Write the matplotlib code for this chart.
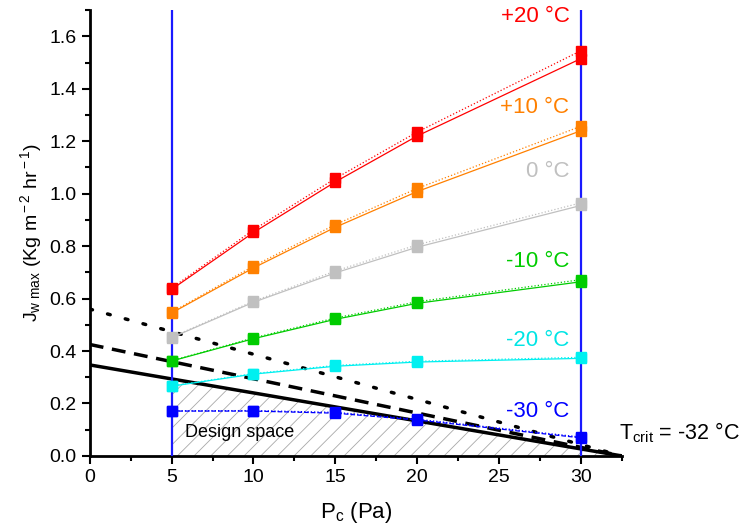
import numpy as np
import matplotlib
matplotlib.use("Agg")
import matplotlib.pyplot as plt
from matplotlib.ticker import MultipleLocator

plt.rcParams['font.family'] = ['Liberation Sans', 'DejaVu Sans']
plt.rcParams['mathtext.fontset'] = 'custom'
plt.rcParams['mathtext.rm'] = 'Liberation Sans'
plt.rcParams['mathtext.it'] = 'Liberation Sans:italic'
plt.rcParams['hatch.linewidth'] = 0.6

# chamber pressure (Pa)
pc = [5, 10, 15, 20, 30]

# J_w max, solid and dotted curves per shelf temperature
labels = ['+20 °C', '+10 °C', '0 °C', '-10 °C', '-20 °C', '-30 °C']
colors_ = ['#ff0000', '#ff8000', '#c0c0c0', '#00cc00', '#00f0f0', '#0000ff']
text_colors = ['#ff0000', '#ff8000', '#c0c0c0', '#00cc00', '#00e5e5', '#0000ff']
solid = [
    [0.635, 0.852, 1.045, 1.220, 1.515],
    [0.545, 0.717, 0.872, 1.008, 1.240],
    [0.451, 0.586, 0.698, 0.796, 0.955],
    [0.362, 0.447, 0.521, 0.582, 0.664],
    [0.266, 0.312, 0.342, 0.358, 0.372],
    [0.171, 0.171, 0.163, 0.137, 0.069],
]
dotted = [
    [0.640, 0.862, 1.058, 1.235, 1.545],
    [0.548, 0.724, 0.882, 1.020, 1.257],
    [0.453, 0.590, 0.705, 0.805, 0.965],
    [0.363, 0.450, 0.526, 0.588, 0.672],
    [0.267, 0.314, 0.345, 0.361, 0.376],
    [0.172, 0.173, 0.166, 0.140, 0.072],
]
label_y = [1.674, 1.327, 1.084, 0.741, 0.442, 0.169]

# equipment capability lines (choked flow limits)
limit_x = [0, 32.5]
limit_solid = [0.347, 0.0]
limit_dashed = [0.425, 0.0]
limit_dotted = [0.56, 0.0]

fig = plt.figure(figsize=(7.42, 5.32), dpi=100)
ax = fig.add_axes([0.121, 0.143, 0.717, 0.838])

# design space hatch under the solid limit, between 5 and 32.5 Pa
xs = np.array([5, 32.5])
ys = np.interp(xs, limit_x, limit_solid)
ax.fill_between(xs, 0, ys, facecolor='none', edgecolor='#a8a8a8',
                hatch='//', linewidth=0, zorder=1)
ax.plot(xs, ys, color='#a8a8a8', lw=0.8, zorder=1)

ax.plot(limit_x, limit_solid, color='black', lw=2.5, zorder=2)
ax.plot(limit_x, limit_dashed, color='black', lw=2.5, dashes=(4, 2.5), zorder=2)
ax.plot(limit_x, limit_dotted, color='black', lw=2.5, dashes=(0.8, 4.5),
        dash_capstyle='round', zorder=2)

ax.axvline(5, color='#1a1aff', lw=1.6, zorder=3)
ax.axvline(30, color='#1a1aff', lw=1.6, zorder=3)

for lab, c, tc, s, d, ly in zip(labels, colors_, text_colors, solid, dotted, label_y):
    ls = '--' if lab == '-30 °C' else '-'
    ax.plot(pc, s, color=c, lw=0.9, ls=ls, marker='s', ms=7, zorder=4)
    ax.plot(pc, d, color=c, lw=0.9, ls=':', marker='s', ms=7, zorder=4)
    ax.text(29.3, ly, lab, color=tc, fontsize=16, ha='right', va='center')

ax.text(5.8, 0.088, 'Design space', fontsize=13, va='center')
ax.text(32.35, 0.088, 'T$_{\\rm crit}$ = -32 °C', fontsize=15.5, va='center',
        clip_on=False)

ax.set_xlim(0, 32.5)
ax.set_ylim(0, 1.7)
ax.set_xticks([0, 5, 10, 15, 20, 25, 30])
ax.xaxis.set_minor_locator(MultipleLocator(2.5))
ax.yaxis.set_major_locator(MultipleLocator(0.2))
ax.yaxis.set_minor_locator(MultipleLocator(0.1))
ax.yaxis.set_major_formatter(matplotlib.ticker.FormatStrFormatter('%.1f'))

for side in ['top', 'right']:
    ax.spines[side].set_visible(False)
for side in ['left', 'bottom']:
    ax.spines[side].set_linewidth(2)
ax.tick_params(which='major', direction='out', length=6, width=1.5, labelsize=14)
ax.tick_params(which='minor', direction='out', length=3.5, width=1.5)

ax.set_xlabel('P$_{\\rm c}$ (Pa)', fontsize=16, labelpad=10)
ax.set_ylabel('J$_{\\rm w\\ max}$ (Kg m$^{\\rm -2}$ hr$^{\\rm -1}$)', fontsize=14, labelpad=4)

fig.savefig('out.png', dpi=100)
